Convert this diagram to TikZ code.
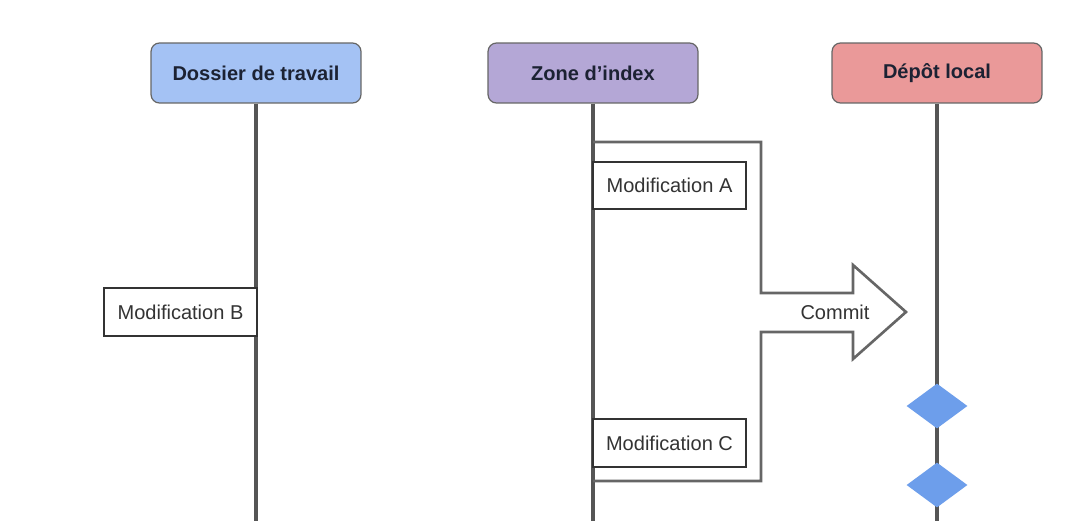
\documentclass[tikz,border=0pt]{standalone}
\usepackage{fontspec}
\setmainfont{Liberation Sans}
\usetikzlibrary{shapes.geometric}
\definecolor{hblue}{HTML}{A4C2F4}
\definecolor{hpurple}{HTML}{B4A7D6}
\definecolor{hred}{HTML}{EA9999}
\definecolor{dblue}{HTML}{6D9EEB}
\definecolor{lline}{HTML}{555555}
\definecolor{fline}{HTML}{666666}
\definecolor{htext}{HTML}{1C2233}
\definecolor{btext}{HTML}{333333}
\tikzset{
  header/.style={draw=fline, line width=0.7pt, rounded corners=0.17cm, minimum width=4.2cm, minimum height=1.2cm, inner sep=0pt, font=\fontsize{11.4}{13}\selectfont\bfseries, text=htext},
  lifeline/.style={draw=lline, line width=2pt},
  modbox/.style={draw=btext, line width=1.1pt, fill=white, minimum width=3.06cm, minimum height=0.95cm, inner sep=0pt, font=\fontsize{11.4}{13}\selectfont, text=btext},
  frameline/.style={draw=fline, line width=1.5pt, line join=miter},
  commitdiamond/.style={diamond, fill=dblue, minimum width=1.22cm, minimum height=0.9cm, inner sep=0pt},
  lbl/.style={font=\fontsize{11.4}{13}\selectfont, text=btext}
}
\begin{document}
\begin{tikzpicture}[x=0.02cm, y=-0.02cm]
\useasboundingbox[fill=white] (0,0) rectangle (1072,528);
% headers
\node[header, fill=hblue] (h1) at (256,73) {Dossier de travail};
\node[header, fill=hpurple] (h2) at (593,73) {Zone d’index};
\node[header, fill=hred] (h3) at (937,73) {Dépôt local};
% lifeline ends
\coordinate (e1) at (256,521);
\coordinate (e2) at (593,521);
\coordinate (e3) at (937,521);
\draw[lifeline] (h1.south) -- (e1);
\draw[lifeline] (h2.south) -- (e2);
\draw[lifeline] (h3.south) -- (e3);
% modification boxes
\node[modbox] (mb) at (180.5,312) {Modification B};
\node[modbox] (ma) at (669.5,185.5) {Modification A};
\node[modbox] (mc) at (669.5,443) {Modification C};
% commit frame / arrow
\draw[frameline] (593,142) -- (761,142) -- (761,293) -- (853,293) -- (853,265)
  -- (906,312) -- (853,359) -- (853,332) -- (761,332) -- (761,481) -- (593,481);
\node[lbl] (commit) at (835,312) {Commit};
% commits on local repo
\node[commitdiamond] (d1) at (937,406) {};
\node[commitdiamond] (d2) at (937,485) {};
\end{tikzpicture}
\end{document}
